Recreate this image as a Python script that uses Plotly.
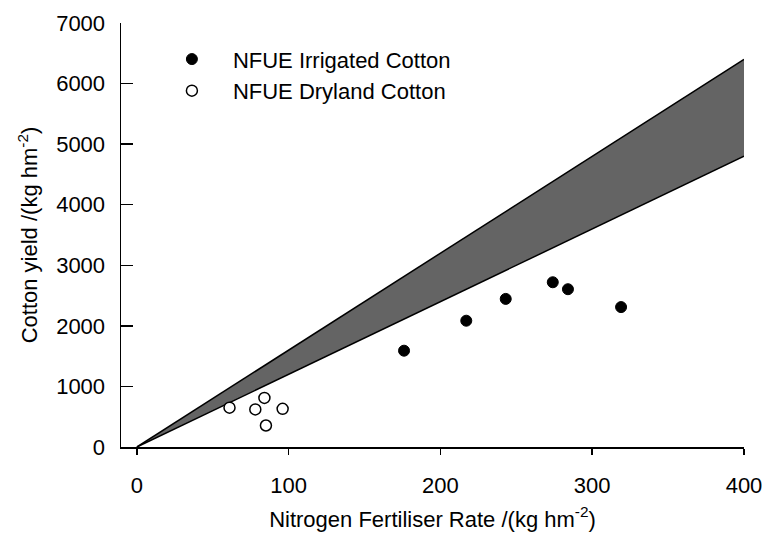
import plotly.graph_objects as go

# Data
band_x = [0, 400]
band_lower = [0, 4800]
band_upper = [0, 6400]

irr_x = [176, 217, 243, 274, 284, 319]
irr_y = [1590, 2085, 2445, 2720, 2605, 2310]

dry_x = [61, 78, 84, 85, 96]
dry_y = [650, 620, 810, 355, 630]

x_ticks = [0, 100, 200, 300, 400]
y_ticks = [0, 1000, 2000, 3000, 4000, 5000, 6000, 7000]

FONT = "Liberation Sans, Arial, sans-serif"

fig = go.Figure()
fig.add_trace(go.Scatter(x=band_x, y=band_lower, mode="lines",
                         line=dict(color="black", width=1.5),
                         showlegend=False, hoverinfo="skip"))
fig.add_trace(go.Scatter(x=band_x, y=band_upper, mode="lines",
                         line=dict(color="black", width=1.5),
                         fill="tonexty", fillcolor="#646464",
                         showlegend=False, hoverinfo="skip"))
fig.add_trace(go.Scatter(x=irr_x, y=irr_y, mode="markers",
                         name="NFUE Irrigated Cotton",
                         marker=dict(color="black", size=11,
                                     line=dict(color="black", width=1))))
fig.add_trace(go.Scatter(x=dry_x, y=dry_y, mode="markers",
                         name="NFUE Dryland Cotton",
                         marker=dict(color="white", size=11,
                                     line=dict(color="black", width=1.5))))

fig.update_layout(
    width=766, height=542,
    margin=dict(l=121, r=22, t=23, b=95, autoexpand=False),
    paper_bgcolor="white", plot_bgcolor="white",
    font=dict(family=FONT, size=22, color="black"),
    showlegend=True,
    legend=dict(x=0.048, y=0.964, xanchor="left", yanchor="top",
                font=dict(size=22), itemwidth=72, traceorder="normal",
                bgcolor="rgba(0,0,0,0)"),
    xaxis=dict(range=[-10.5, 400], tickvals=x_ticks, automargin=False,
               showgrid=False, zeroline=False,
               showline=True, linecolor="black", linewidth=1.5,
               ticks="outside", ticklen=6, tickwidth=1.5, tickcolor="black",
               ticklabelstandoff=12,
               title=dict(text="Nitrogen Fertiliser Rate /(kg hm<sup>-2</sup>)",
                          font=dict(size=22), standoff=14)),
    yaxis=dict(range=[0, 7000], tickvals=y_ticks, automargin=False,
               showgrid=False, zeroline=False,
               showline=True, linecolor="black", linewidth=1.5,
               ticks="inside", ticklen=12, tickwidth=1.5, tickcolor="black",
               ticklabelstandoff=10,
               title=dict(text="Cotton yield /(kg hm<sup>-2</sup>)",
                          font=dict(size=22), standoff=12)),
)

# remove the browser's default body margin so the figure fills the window
fig.write_html("out.html",
               config={"displayModeBar": False, "staticPlot": True},
               post_script="document.body.style.margin='0';"
                           "document.body.style.overflow='hidden';")
